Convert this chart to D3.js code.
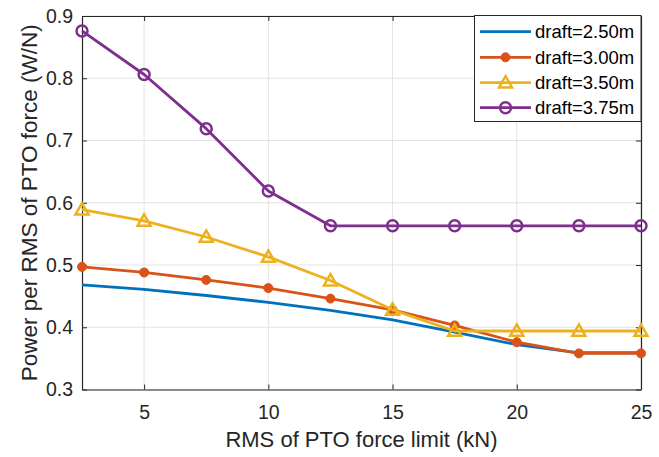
<!DOCTYPE html>
<html><head><meta charset="utf-8">
<script src="https://cdn.jsdelivr.net/npm/d3@7"></script>
<style>body{margin:0;background:#fff;} text{font-family:"Liberation Sans",Arial,sans-serif;}</style>
</head><body><svg id="c" width="659" height="457"></svg>
<script>
const xValues = [2.5, 5, 7.5, 10, 12.5, 15, 17.5, 20, 22.5, 25];
const draft250 = [0.468, 0.461, 0.451, 0.440, 0.427, 0.412, 0.392, 0.372, 0.359, 0.359];
const draft300 = [0.497, 0.488, 0.476, 0.463, 0.446, 0.428, 0.403, 0.376, 0.358, 0.358];
const draft350 = [0.589, 0.571, 0.545, 0.513, 0.475, 0.428, 0.394, 0.394, 0.394, 0.394];
const draft375 = [0.876, 0.806, 0.719, 0.619, 0.563, 0.563, 0.563, 0.563, 0.563, 0.563];
const seriesNames = ["draft=2.50m", "draft=3.00m", "draft=3.50m", "draft=3.75m"];
const xTicks = [5, 10, 15, 20, 25];
const yTicks = [0.3, 0.4, 0.5, 0.6, 0.7, 0.8, 0.9];
const xLabel = "RMS of PTO force limit (kN)";
const yLabel = "Power per RMS of PTO force (W/N)";

const colors = ["#0072BD", "#D95319", "#EDB120", "#7E2F8E"];
const markers = ["none", "dot", "tri", "circle"];
const allSeries = [draft250, draft300, draft350, draft375];

const svg = d3.select("#c");
const L = 82, R = 641, T = 16, B = 389.5;
const x = d3.scaleLinear().domain([2.5, 25]).range([L, R]);
const y = d3.scaleLinear().domain([0.3, 0.9]).range([B, T]);

// grid
const g = svg.append("g");
g.selectAll(".gx").data(xTicks).enter().append("line")
  .attr("x1", d => x(d)).attr("x2", d => x(d)).attr("y1", T).attr("y2", B)
  .attr("stroke", "#e3e3e3").attr("stroke-width", 1);
g.selectAll(".gy").data(yTicks).enter().append("line")
  .attr("x1", L).attr("x2", R).attr("y1", d => y(d)).attr("y2", d => y(d))
  .attr("stroke", "#e3e3e3").attr("stroke-width", 1);

// axes
const axCol = "#262626";
const xAxis = svg.append("g").attr("transform", `translate(0,${B})`)
  .call(d3.axisBottom(x).tickValues(xTicks).tickSizeInner(-5).tickSizeOuter(0).tickPadding(16));
const xAxisTop = svg.append("g").attr("transform", `translate(0,${T})`)
  .call(d3.axisTop(x).tickValues(xTicks).tickSizeInner(-5).tickSizeOuter(0).tickFormat(""));
const yAxis = svg.append("g").attr("transform", `translate(${L},0)`)
  .call(d3.axisLeft(y).tickValues(yTicks).tickSizeInner(-5).tickSizeOuter(0).tickPadding(9).tickFormat(d3.format(".1f")));
const yAxisR = svg.append("g").attr("transform", `translate(${R},0)`)
  .call(d3.axisRight(y).tickValues(yTicks).tickSizeInner(-5).tickSizeOuter(0).tickFormat(""));
[xAxis, xAxisTop, yAxis, yAxisR].forEach(a => {
  a.select(".domain").attr("stroke", axCol).attr("stroke-width", 1.2);
  a.selectAll(".tick line").attr("stroke", axCol).attr("stroke-width", 1);
  a.selectAll("text").attr("fill", axCol).style("font-size", "19.5px").style("font-family", '"Liberation Sans",Arial,sans-serif');
});

const line = d3.line().x((d, i) => x(xValues[i])).y(d => y(d));
const plot = svg.append("g");

function drawMarker(sel, type, color) {
  if (type === "dot") {
    sel.append("circle").attr("r", 4.5).attr("fill", color).attr("stroke", color).attr("stroke-width", 1);
  } else if (type === "circle") {
    sel.append("circle").attr("r", 5.5).attr("fill", "none").attr("stroke", color).attr("stroke-width", 2.5);
  } else if (type === "tri") {
    const s = 6.5;
    sel.append("path").attr("d", `M0,${-s} L${s},${s*0.75} L${-s},${s*0.75} Z`)
      .attr("fill", "none").attr("stroke", color).attr("stroke-width", 2.5).attr("stroke-linejoin", "miter");
  }
}

allSeries.forEach((vals, si) => {
  plot.append("path").datum(vals).attr("d", line).attr("fill", "none")
    .attr("stroke", colors[si]).attr("stroke-width", 2.8).attr("stroke-linejoin", "round");
  if (markers[si] !== "none") {
    vals.forEach((v, i) => {
      const m = plot.append("g").attr("transform", `translate(${x(xValues[i])},${y(v)})`);
      drawMarker(m, markers[si], colors[si]);
    });
  }
});

// legend
const lg = svg.append("g");
lg.append("rect").attr("x", 474.5).attr("y", 15.5).attr("width", 166.5).attr("height", 106)
  .attr("fill", "#fff").attr("stroke", axCol).attr("stroke-width", 1);
const ly = [31.7, 57.3, 82.7, 107.7];
seriesNames.forEach((name, si) => {
  lg.append("line").attr("x1", 480).attr("x2", 531).attr("y1", ly[si]).attr("y2", ly[si])
    .attr("stroke", colors[si]).attr("stroke-width", 2.8);
  if (markers[si] !== "none") {
    const m = lg.append("g").attr("transform", `translate(505.5,${ly[si]})`);
    drawMarker(m, markers[si], colors[si]);
  }
  lg.append("text").attr("x", 535).attr("y", ly[si]).attr("dy", "0.35em")
    .attr("fill", "#000").style("font-size", "18.5px").text(name);
});

// axis labels
svg.append("text").attr("x", (L + R) / 2).attr("y", 447).attr("text-anchor", "middle")
  .attr("fill", axCol).style("font-size", "22px").text(xLabel);
svg.append("text").attr("transform", `translate(36.5,${(T + B) / 2}) rotate(-90)`).attr("text-anchor", "middle")
  .attr("fill", axCol).style("font-size", "22.5px").text(yLabel);
</script></body></html>
